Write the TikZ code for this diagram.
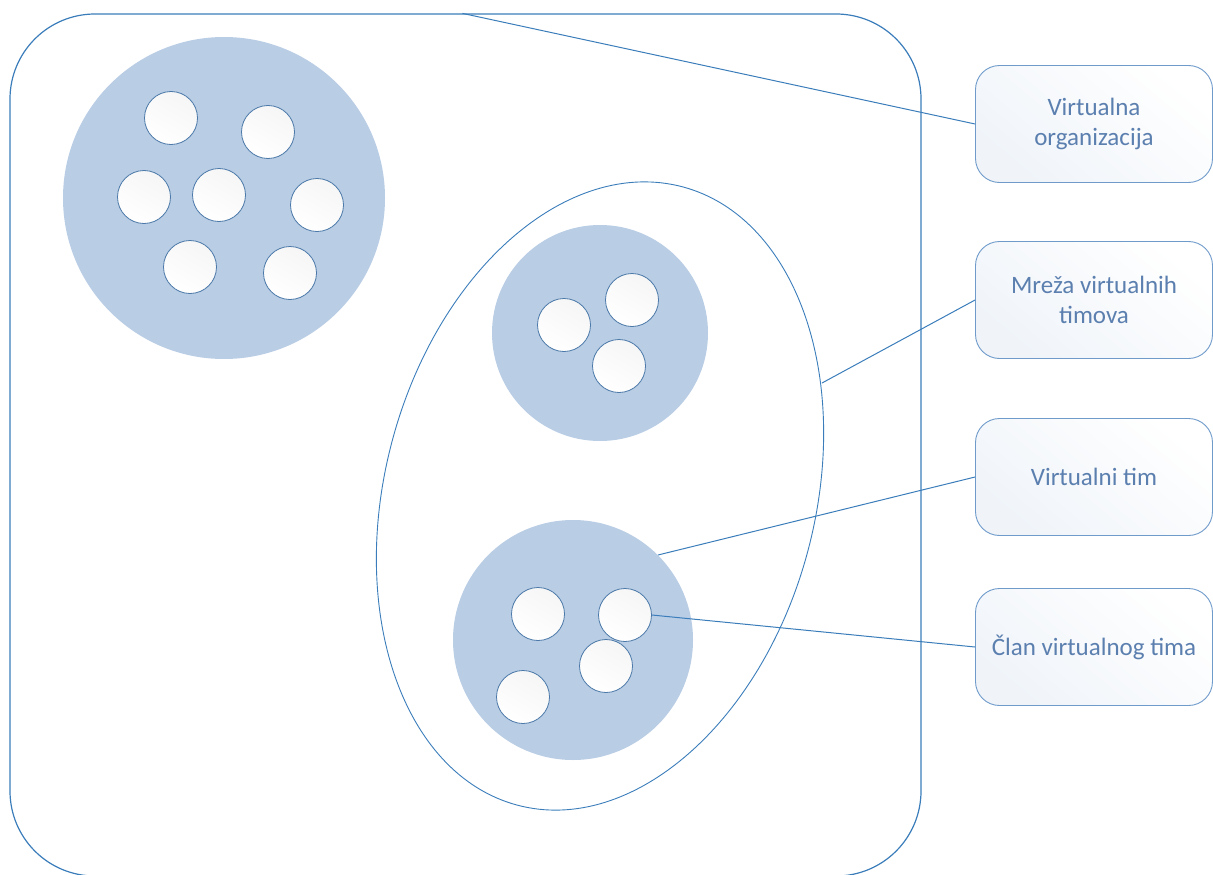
\documentclass[tikz,border=0pt]{standalone}
\usepackage{fontspec}
\setmainfont{Carlito}
\usetikzlibrary{shapes.geometric}
\definecolor{edgeblue}{HTML}{3A7DBA}
\definecolor{teamfill}{HTML}{B9CDE5}
\definecolor{memberedge}{HTML}{4A78A8}
\definecolor{boxedge}{HTML}{6F9BCB}
\definecolor{boxtext}{HTML}{5B7FAF}
\tikzset{
  team/.style={circle, fill=teamfill, inner sep=0pt},
  member/.style={circle, draw=memberedge, line width=0.8pt, minimum size=53pt, inner sep=0pt,
    top color=blue!3!gray!7, bottom color=white, shading angle=-30},
  lbl/.style={draw=boxedge, line width=0.9pt, rounded corners=24pt, minimum width=237pt,
    minimum height=117pt, align=center, text=boxtext, font=\fontsize{25}{30}\selectfont,
    top color=white, bottom color=teamfill!22, shading angle=-40},
  link/.style={draw=edgeblue, line width=1pt}
}
\begin{document}
\begin{tikzpicture}[x=1pt, y=-1pt]
\useasboundingbox (0,0) rectangle (1213,875);

\node[draw=edgeblue, line width=1.2pt, rounded corners=85pt, minimum width=911pt, minimum height=862pt, inner sep=0pt] (org) at (465.5,445) {};

\node[team, minimum size=322pt] (grp) at (224,198) {};
\node[member] (g1) at (171,118) {};
\node[member] (g2) at (268,132) {};
\node[member] (g3) at (144,197) {};
\node[member] (g4) at (219,195) {};
\node[member] (g5) at (317,205) {};
\node[member] (g6) at (190,267) {};
\node[member] (g7) at (290,273) {};

\node[ellipse, draw=edgeblue, line width=0.9pt, minimum width=430pt, minimum height=640pt, rotate=-15, inner sep=0pt] (net) at (600,496) {};

\node[team, minimum size=216pt] (tim1) at (600,333) {};
\node[member] (a1) at (564,325) {};
\node[member] (a2) at (632,300) {};
\node[member] (a3) at (619,366) {};

\node[team, minimum size=240pt] (tim2) at (573,640) {};
\node[member] (b1) at (538,614) {};
\node[member] (b2) at (625,615) {};
\node[member] (b3) at (606,666) {};
\node[member] (b4) at (523,697) {};

\node[lbl] (org lbl) at (1094,124) {Virtualna\\organizacija};
\node[lbl] (net lbl) at (1094,300) {Mreža virtualnih\\timova};
\node[lbl] (tim lbl) at (1094,477) {Virtualni tim};
\node[lbl] (clan lbl) at (1094,647) {Član virtualnog tima};

\coordinate (net pt) at (822,383);

\draw[link] ([xshift=-3pt]org.north) -- (org lbl.west);
\draw[link] (net pt) -- (net lbl.west);
\draw[link] (tim2.45) -- (tim lbl.west);
\draw[link] (b2.east) -- (clan lbl.west);

\end{tikzpicture}
\end{document}
